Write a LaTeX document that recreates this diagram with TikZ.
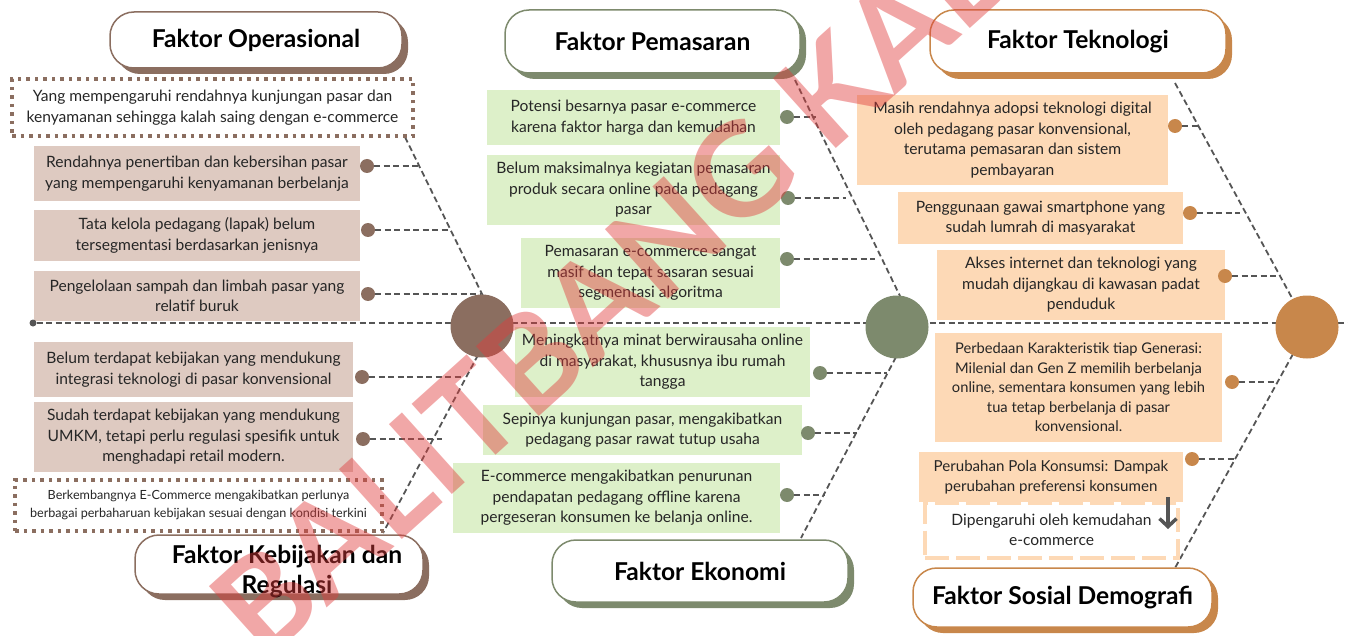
\documentclass[tikz,border=0pt]{standalone}
\usepackage{fontspec}
\setmainfont{Lato}
\usetikzlibrary{shadows,arrows.meta}

\definecolor{brownD}{HTML}{8B6E60}
\definecolor{brownL}{HTML}{DECAC1}
\definecolor{greenD}{HTML}{7D8A6D}
\definecolor{greenL}{HTML}{DDF0C9}
\definecolor{orangeD}{HTML}{C8874B}
\definecolor{orangeL}{HTML}{FDD9B6}
\definecolor{lineC}{HTML}{555555}
\definecolor{textC}{HTML}{262626}
\definecolor{wmC}{HTML}{E03C3C}

\pgfdeclarelayer{bg}
\pgfsetlayers{bg,main}

\begin{document}
\begin{tikzpicture}[x=1pt,y=-1pt,
  body/.style={font=\fontsize{15.6}{20.5}\selectfont, text=textC, align=center, inner sep=0pt},
  bbox/.style={body, fill=brownL},
  gbox/.style={body, fill=greenL},
  obox/.style={body, fill=orangeL},
  dotbox/.style={body, draw=brownD, line width=3.5pt, dash pattern=on 3.5pt off 5pt},
  dashbox/.style={body, fill=white, draw=orangeL, line width=4pt, dash pattern=on 24pt off 7pt},
  title/.style={draw=#1, fill=white, line width=1.5pt, rounded corners=24pt,
    font=\bfseries\fontsize{24.6}{30}\selectfont, align=center, text=black,
    general shadow={shadow xshift=6pt, shadow yshift=-6pt, fill=#1}},
  titletext/.style={font=\bfseries\fontsize{24.6}{30}\selectfont, align=center, text=black, inner sep=0pt},
  dotn/.style={circle, fill=#1, minimum size=14pt, inner sep=0pt},
  hub/.style={circle, fill=#1, minimum size=63pt, inner sep=0pt},
  bone/.style={draw=lineC, line width=1.8pt, dash pattern=on 6pt off 3.5pt},
  wm/.style={font=\bfseries\fontsize{130}{130}\selectfont, text=wmC, opacity=0.45, inner sep=0pt},
]
\useasboundingbox (0,0) rectangle (1348,636);
\clip (0,0) rectangle (1348,636);

% ---------- Operasional / Kebijakan (brown) ----------
\node[title=brownD, minimum width=292pt, minimum height=56pt] (tOp) at (256,40) {Faktor Operasional};
\node[dotbox, minimum width=401pt, minimum height=57pt] (dOp) at (212.5,107.5)
  {Yang mempengaruhi rendahnya kunjungan pasar dan\\kenyamanan sehingga kalah saing dengan e-commerce};
\node[bbox, minimum width=326pt, minimum height=55pt] (b1) at (197,173.5)
  {Rendahnya penertiban dan kebersihan pasar\\yang mempengaruhi kenyamanan berbelanja};
\node[bbox, minimum width=326pt, minimum height=51pt] (b2) at (197,235.5)
  {Tata kelola pedagang (lapak) belum\\tersegmentasi berdasarkan jenisnya};
\node[bbox, minimum width=326pt, minimum height=50pt] (b3) at (197,296)
  {Pengelolaan sampah dan limbah pasar yang\\relatif buruk};
\node[bbox, minimum width=319pt, minimum height=55pt] (b4) at (193.5,369.5)
  {Belum terdapat kebijakan yang mendukung\\integrasi teknologi di pasar konvensional};
\node[bbox, minimum width=319pt, minimum height=70pt] (b5) at (193.5,437)
  {Sudah terdapat kebijakan yang mendukung\\UMKM, tetapi perlu regulasi spesifik untuk\\menghadapi retail modern.};
\node[dotbox, minimum width=367pt, minimum height=51pt, font=\fontsize{12.6}{18}\selectfont] (dKb) at (198.5,505.5)
  {Berkembangnya E-Commerce mengakibatkan perlunya\\berbagai perbaharuan kebijakan sesuai dengan kondisi terkini};
\node[title=brownD, minimum width=288pt, minimum height=59pt] (tKb) at (279,564.5) {};
\node[titletext] (tKbT) at (287,572) {Faktor Kebijakan dan\\Regulasi};

% ---------- Pemasaran / Ekonomi (green) ----------
\node[title=greenD, minimum width=295pt, minimum height=63pt] (tPm) at (652.5,41.5) {Faktor Pemasaran};
\node[gbox, minimum width=293pt, minimum height=55pt] (g1) at (633.5,117.5)
  {Potensi besarnya pasar e-commerce\\karena faktor harga dan kemudahan};
\node[gbox, minimum width=293pt, minimum height=70pt] (g2) at (633.5,190)
  {Belum maksimalnya kegiatan pemasaran\\produk secara online pada pedagang\\pasar};
\node[gbox, minimum width=259pt, minimum height=70pt] (g3) at (650.5,273)
  {Pemasaran e-commerce sangat\\masif dan tepat sasaran sesuai\\segmentasi algoritma};
\node[gbox, minimum width=295pt, minimum height=70pt] (g4) at (662.5,362)
  {Meningkatnya minat berwirausaha online\\di masyarakat, khususnya ibu rumah\\tangga};
\node[gbox, minimum width=319pt, minimum height=50pt] (g5) at (642.5,430)
  {Sepinya kunjungan pasar, mengakibatkan\\pedagang pasar rawat tutup usaha};
\node[gbox, minimum width=327pt, minimum height=70pt] (g6) at (616.5,498)
  {E-commerce mengakibatkan penurunan\\pendapatan pedagang offline karena\\pergeseran konsumen ke belanja online.};
\node[title=greenD, minimum width=296pt, minimum height=62pt] (tEk) at (700,571) {Faktor Ekonomi};

% ---------- Teknologi / Sosial Demografi (orange) ----------
\node[title=orangeD, minimum width=296pt, minimum height=63pt] (tTk) at (1078,41.5) {Faktor Teknologi};
\node[obox, minimum width=311pt, minimum height=90pt] (o1) at (1012.5,140)
  {Masih rendahnya adopsi teknologi digital\\oleh pedagang pasar konvensional,\\terutama pemasaran dan sistem\\pembayaran};
\node[obox, minimum width=285pt, minimum height=52pt] (o2) at (1040.5,218)
  {Penggunaan gawai smartphone yang\\sudah lumrah di masyarakat};
\node[obox, minimum width=288pt, minimum height=70pt] (o3) at (1081,285)
  {Akses internet dan teknologi yang\\mudah dijangkau di kawasan padat\\penduduk};
\node[obox, minimum width=287pt, minimum height=109pt, font=\fontsize{14.7}{19.5}\selectfont] (o4) at (1078.5,387.5)
  {Perbedaan Karakteristik tiap Generasi:\\Milenial dan Gen Z memilih berbelanja\\online, sementara konsumen yang lebih\\tua tetap berbelanja di pasar\\konvensional.};
\node[obox, minimum width=264pt, minimum height=50pt, font=\fontsize{15.1}{20}\selectfont] (o5) at (1051,477)
  {Perubahan Pola Konsumsi: Dampak\\perubahan preferensi konsumen};
\node[dashbox, minimum width=253pt, minimum height=55pt] (o6) at (1051.5,530)
  {Dipengaruhi oleh kemudahan\\e-commerce};
\node[title=orangeD, minimum width=299pt, minimum height=59pt] (tSd) at (1062.5,597.5) {Faktor Sosial Demografi};

% ---------- hubs and branch dots ----------
\node[hub=brownD] (hB) at (482,326) {};
\node[hub=greenD] (hG) at (897,327) {};
\node[hub=orangeD] (hO) at (1307,327) {};
\node[circle, fill=lineC, minimum size=7pt, inner sep=0pt] (spDot) at (33,323) {};

\node[dotn=brownD] (db1) at (367,166) {};
\node[dotn=brownD] (db2) at (368,230) {};
\node[dotn=brownD] (db3) at (368,294) {};
\node[dotn=brownD] (db4) at (362,377) {};
\node[dotn=brownD] (db5) at (363,439) {};

\node[dotn=greenD] (dg1) at (787,117) {};
\node[dotn=greenD] (dg2) at (788,198) {};
\node[dotn=greenD] (dg3) at (787,259) {};
\node[dotn=greenD] (dg4) at (820,373) {};
\node[dotn=greenD] (dg5) at (808,433) {};
\node[dotn=greenD] (dg6) at (787,495) {};

\node[dotn=orangeD] (do1) at (1175,126) {};
\node[dotn=orangeD] (do2) at (1190,213) {};
\node[dotn=orangeD] (do3) at (1225,276) {};
\node[dotn=orangeD] (do4) at (1232,382) {};
\node[dotn=orangeD] (do5) at (1192,459) {};

% ---------- bone end points ----------
\coordinate (spR) at (1348,323);
\coordinate (opTop) at (405,137);  \coordinate (opBot) at (483,296);
\coordinate (kbTop) at (478,355);  \coordinate (kbBot) at (383,533);
\coordinate (pmTop) at (795,80);   \coordinate (pmBot) at (900,296);
\coordinate (ekTop) at (896,357);  \coordinate (ekBot) at (801,538);
\coordinate (tkTop) at (1175,83);  \coordinate (tkBot) at (1292,298);
\coordinate (sdTop) at (1293,354); \coordinate (sdBot) at (1175,568);

\coordinate (jb1) at (418,166); \coordinate (jb2) at (450,230); \coordinate (jb3) at (481,294);
\coordinate (jb4) at (463,377); \coordinate (jb5) at (442,439);
\coordinate (jg1) at (816,117); \coordinate (jg2) at (846,198); \coordinate (jg3) at (875,259);
\coordinate (jg4) at (887,373); \coordinate (jg5) at (857,433); \coordinate (jg6) at (825,495);
\coordinate (jo1) at (1199,126); \coordinate (jo2) at (1240,213); \coordinate (jo3) at (1276,276);
\coordinate (jo4) at (1278,382); \coordinate (jo5) at (1235,459);

\begin{pgfonlayer}{bg}
  \draw[bone] (spDot) -- (spR);
  \draw[bone] (opTop) -- (opBot);
  \draw[bone] (kbTop) -- (kbBot);
  \draw[bone] (pmTop) -- (pmBot);
  \draw[bone] (ekTop) -- (ekBot);
  \draw[bone] (tkTop) -- (tkBot);
  \draw[bone] (sdTop) -- (sdBot);
  \foreach \i in {1,...,5} { \draw[bone] (db\i) -- (jb\i); }
  \foreach \i in {1,...,6} { \draw[bone] (dg\i) -- (jg\i); }
  \foreach \i in {1,...,5} { \draw[bone] (do\i) -- (jo\i); }
\end{pgfonlayer}

% down arrow linking the consumption box to its note
\coordinate (arrS) at (1168,497);
\coordinate (arrE) at (1168,529);
\draw[draw=lineC, line width=3.5pt, -{Straight Barb[length=8pt, width=17pt]}] (arrS) -- (arrE);

% diagonal watermark
\node[wm, rotate=42, anchor=west] (wmark) at (233,629) {BALITBANG KAB};
\end{tikzpicture}
\end{document}
